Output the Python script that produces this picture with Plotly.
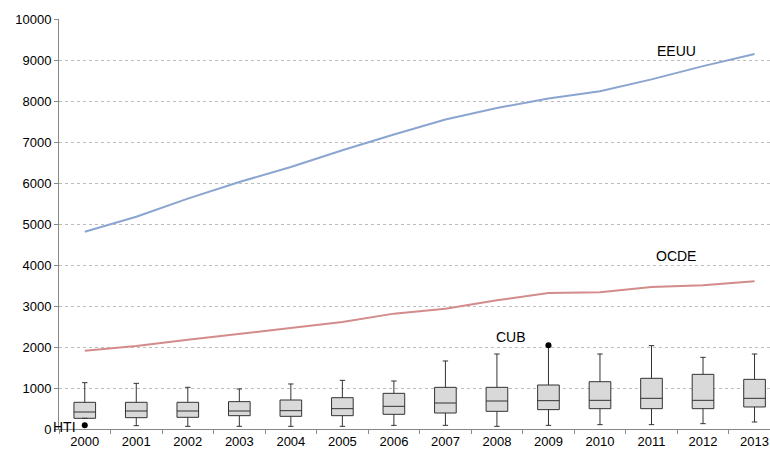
import plotly.graph_objects as go

years = [2000, 2001, 2002, 2003, 2004, 2005, 2006, 2007, 2008, 2009, 2010, 2011, 2012, 2013]

# Reference series
eeuu = [4812, 5178, 5619, 6024, 6391, 6797, 7181, 7548, 7831, 8062, 8238, 8528, 8851, 9146]
ocde = [1910, 2024, 2175, 2325, 2472, 2609, 2814, 2934, 3139, 3317, 3334, 3465, 3506, 3604]

# Distribution across countries per year (box statistics)
q1 = [261, 276, 285, 325, 309, 325, 358, 390, 431, 472, 496, 496, 496, 537]
median = [415, 439, 439, 439, 447, 496, 553, 634, 683, 691, 699, 748, 699, 748]
q3 = [651, 651, 651, 667, 707, 764, 870, 1016, 1016, 1073, 1154, 1236, 1333, 1211]
lower = [261, 81, 65, 65, 65, 65, 89, 89, 65, 89, 106, 106, 130, 171]
upper = [1130, 1114, 1017, 976, 1098, 1187, 1171, 1659, 1829, 2020, 1829, 2033, 1748, 1829]

# Outliers
out_labels = ["HTI", "CUB"]
out_years = [2000, 2009]
out_values = [90, 2043]

y_ticks = [0, 1000, 2000, 3000, 4000, 5000, 6000, 7000, 8000, 9000, 10000]

family = "Liberation Sans, Arial, sans-serif"
font = dict(family=family, size=14, color="#000000")
tfont = dict(family=family, size=13, color="#000000")

fig = go.Figure()

fig.add_trace(go.Box(
    x=years, q1=q1, median=median, q3=q3,
    lowerfence=lower, upperfence=upper,
    boxpoints=False, width=0.42, whiskerwidth=0.25,
    fillcolor="#d9d9d9", line=dict(color="#333333", width=1),
    showlegend=False,
))

fig.add_trace(go.Scatter(
    x=years, y=eeuu, mode="lines",
    line=dict(color="#8aa5d0", width=2), showlegend=False,
))
fig.add_trace(go.Scatter(
    x=years, y=ocde, mode="lines",
    line=dict(color="#d38b8b", width=2), showlegend=False,
))
fig.add_trace(go.Scatter(
    x=out_years, y=out_values, mode="markers",
    marker=dict(color="#000000", size=6), showlegend=False,
))

# Series and outlier labels
fig.add_annotation(x=2011.49, y=9226, text="EEUU", showarrow=False, font=font)
fig.add_annotation(x=2011.48, y=4223, text="OCDE", showarrow=False, font=font)
fig.add_annotation(x=2008.27, y=2245, text=out_labels[1], showarrow=False, font=font)
fig.add_annotation(x=1999.61, y=56, text=out_labels[0], showarrow=False, font=font)

fig.update_layout(
    width=770, height=449,
    margin=dict(l=59, r=0, t=19, b=20),
    paper_bgcolor="white", plot_bgcolor="white",
    font=font,
    xaxis=dict(
        range=[1999.5, 2013.30],
        tickmode="array", tickvals=years, ticktext=[str(y) for y in years],
        ticks="", showgrid=False, zeroline=False,
        showline=True, linecolor="#888888", linewidth=1,
        minor=dict(ticks="outside", tickmode="linear", tick0=1999.5, dtick=1,
                   ticklen=4, tickcolor="#888888", showgrid=False),
        tickfont=tfont,
    ),
    yaxis=dict(
        range=[0, 10000],
        tickmode="array", tickvals=y_ticks, ticktext=[str(v) for v in y_ticks],
        ticks="outside", ticklen=4, tickcolor="#888888",
        showgrid=True, gridcolor="#bdbdbd", gridwidth=1, griddash="3px,3px",
        zeroline=False, showline=True, linecolor="#888888", linewidth=1,
        tickfont=tfont,
    ),
)

fig.write_html("out.html")
